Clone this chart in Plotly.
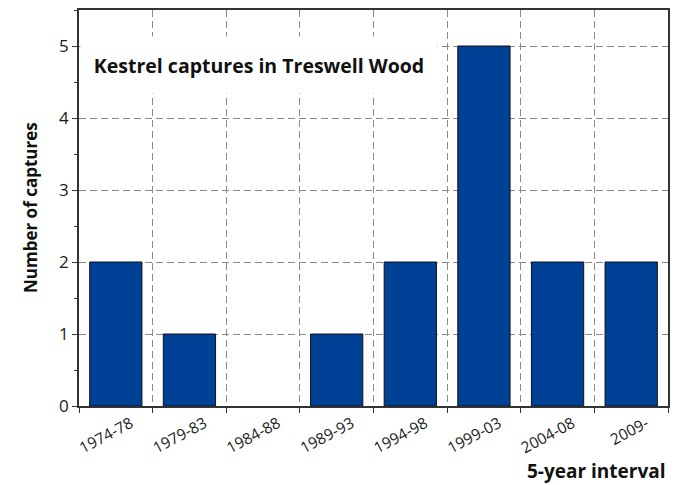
import plotly.graph_objects as go

categories = ["1974-78", "1979-83", "1984-88", "1989-93", "1994-98", "1999-03", "2004-08", "2009-"]
captures = [2, 1, 0, 1, 2, 5, 2, 2]
y_ticks = [0, 1, 2, 3, 4, 5]

FONT = "Open Sans"

fig = go.Figure()
fig.add_trace(go.Bar(
    x=categories, y=captures,
    marker=dict(color="#004198",
                line=dict(color="#111111", width=[1 if v > 0 else 0 for v in captures])),
    width=0.71,
))

fig.update_layout(
    width=680, height=485,
    margin=dict(l=79, r=12, t=10, b=79, autoexpand=False),
    paper_bgcolor="white", plot_bgcolor="white",
    font=dict(family=FONT, size=15, color="#222222"),
    showlegend=False,
)
fig.update_xaxes(
    type="category", tickson="boundaries", automargin=False,
    showline=True, linecolor="#333333", linewidth=1.5, mirror=True,
    ticks="outside", ticklen=5, tickcolor="#333333",
    showgrid=True, gridcolor="#8a8a8a", gridwidth=1, griddash="7px,4px",
    tickangle=-28, tickfont=dict(size=15.5, family=FONT, color="#1a1a1a"),
    ticklabelshift=15, ticklabelstandoff=1,
)
fig.update_yaxes(
    range=[0, 5.5], tickvals=y_ticks, zeroline=False, automargin=False,
    showline=True, linecolor="#333333", linewidth=1.5, mirror=True,
    ticks="outside", ticklen=5, tickcolor="#333333",
    minor=dict(dtick=0.5, ticks="outside", ticklen=3, tickcolor="#333333", showgrid=False),
    showgrid=True, gridcolor="#8a8a8a", gridwidth=1, griddash="7px,4px",
    tickfont=dict(size=17, family=FONT, color="#1a1a1a"),
)

fig.add_annotation(
    xref="paper", yref="paper", x=(80 - 79) / 589, y=(406 - 36) / 396,
    xanchor="left", yanchor="top",
    text="<b>Kestrel captures in Treswell Wood</b>",
    showarrow=False, bgcolor="white", width=348, height=48,
    borderpad=4, align="center",
    font=dict(family=FONT, size=19.5, color="#111111"),
)
fig.add_annotation(
    xref="paper", yref="paper", x=(30 - 79) / 589, y=(406 - 208) / 396,
    xanchor="center", yanchor="middle", textangle=-90,
    text="<b>Number of captures</b>", showarrow=False,
    font=dict(family=FONT, size=17, color="#111111"),
)
fig.add_annotation(
    xref="paper", yref="paper", x=1.0, y=(406 - 471) / 396,
    xanchor="right", yanchor="middle",
    text="<b>5-year interval</b>", showarrow=False,
    font=dict(family=FONT, size=19, color="#111111"),
)

fig.write_html("out.html", config={"displayModeBar": False},
               post_script="document.body.style.margin='0px';")
